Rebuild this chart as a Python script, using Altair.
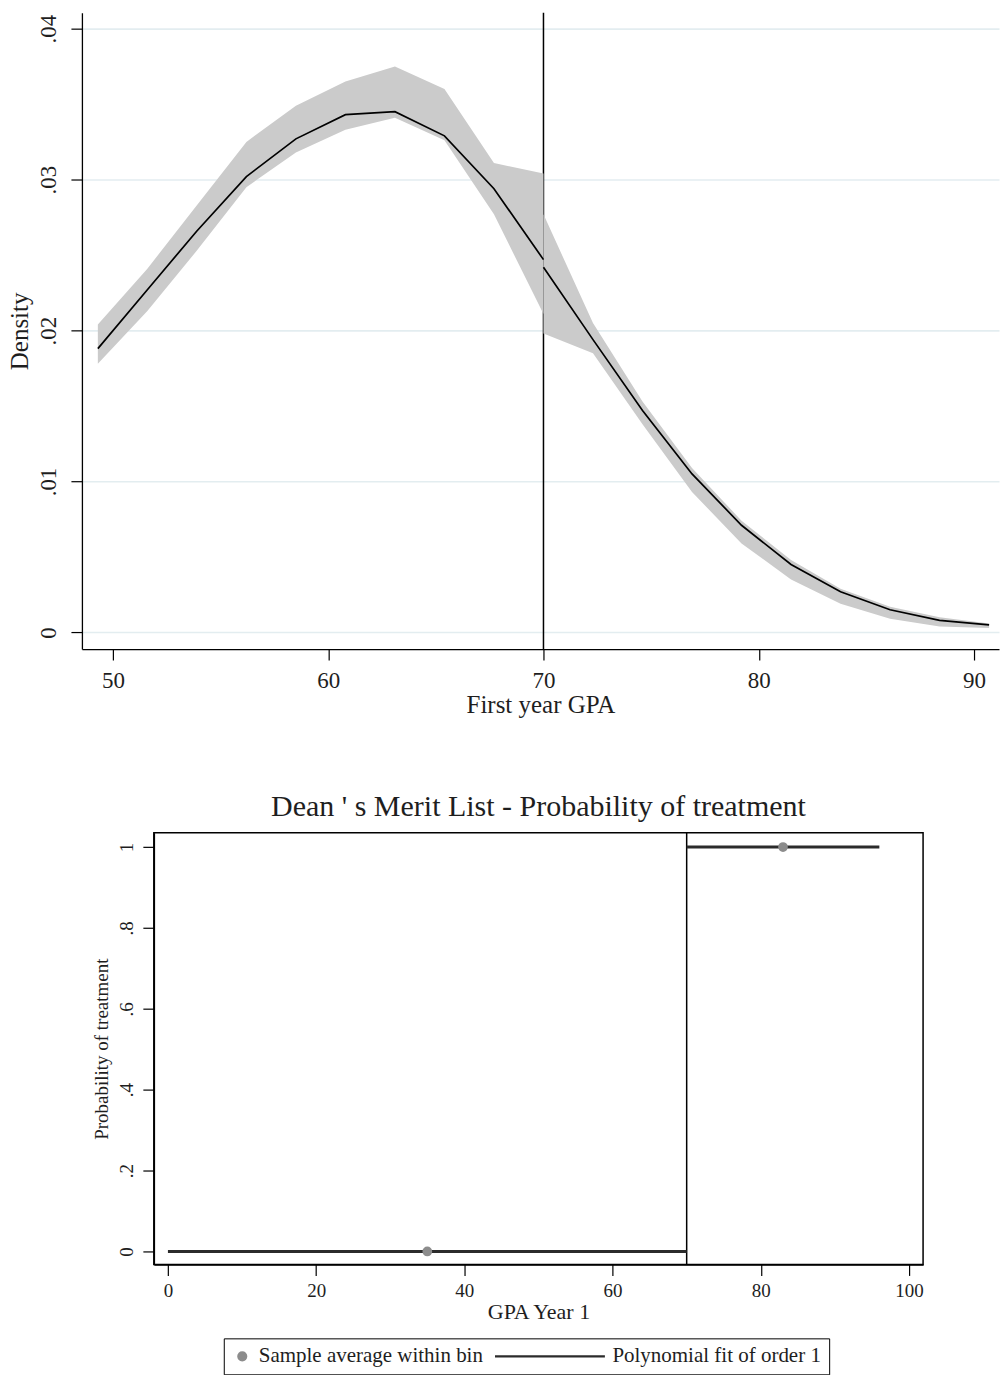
import altair as alt
import pandas as pd

SERIF = "Liberation Serif"
INK = "#1e1e1e"

# Density of first-year GPA on each side of the 70 cutoff, with its confidence band
gpa_below = [49.3, 51.6, 53.9, 56.2, 58.5, 60.8, 63.1, 65.4, 67.7, 70.0]
density_below = [0.0188, 0.0227, 0.0266, 0.0302, 0.0327, 0.0343, 0.0345, 0.0329, 0.0294, 0.0247]
band_lo_below = [0.0178, 0.0213, 0.0253, 0.0295, 0.0318, 0.0333, 0.0341, 0.0326, 0.0277, 0.0211]
band_hi_below = [0.0204, 0.0241, 0.0283, 0.0325, 0.0349, 0.0365, 0.0375, 0.0360, 0.0311, 0.0304]

gpa_above = [70.0, 72.3, 74.6, 76.9, 79.2, 81.5, 83.8, 86.1, 88.4, 90.7]
density_above = [0.0242, 0.0194, 0.0147, 0.0105, 0.0071, 0.0045, 0.0027, 0.0015, 0.0008, 0.0005]
band_lo_above = [0.0198, 0.0185, 0.0138, 0.0093, 0.0059, 0.0035, 0.0019, 0.0009, 0.0004, 0.0003]
band_hi_above = [0.0277, 0.0205, 0.0153, 0.0109, 0.0074, 0.0048, 0.0029, 0.0017, 0.0010, 0.0006]

cutoff = [70]
density_ticks = [0, 0.01, 0.02, 0.03, 0.04]
gpa_ticks_top = [50, 60, 70, 80, 90]

# Dean's Merit List: binned treatment rates and a linear fit on each side
bin_label = "Sample average within bin"
fit_label = "Polynomial fit of order 1"
series_names = [bin_label, fit_label]
bin_gpa = [35, 83]
bin_prob = [0, 1]
fit_gpa = [0, 70, 70, 96]
fit_prob = [0, 0, 1, 1]
fit_side = ["below", "below", "above", "above"]
prob_ticks = [0, 0.2, 0.4, 0.6, 0.8, 1]
gpa_ticks_bottom = [0, 20, 40, 60, 80, 100]

# ---------------- density panel ----------------
dens = pd.DataFrame({
    "gpa": gpa_below + gpa_above,
    "density": density_below + density_above,
    "lo": band_lo_below + band_lo_above,
    "hi": band_hi_below + band_hi_above,
    "side": ["below"] * len(gpa_below) + ["above"] * len(gpa_above),
})

x_scale_top = alt.Scale(domain=[48.56, 91.16], nice=False, zero=False)
y_scale_top = alt.Scale(domain=[-0.0011, 0.04106], nice=False, zero=False)

x_axis_top = alt.Axis(
    values=gpa_ticks_top, title="First year GPA", grid=False,
    domainColor="black", domainWidth=1.3, tickColor="black", tickWidth=1.2, tickSize=11,
    labelFont=SERIF, labelFontSize=23, labelColor=INK, labelPadding=9,
    labelFlush=False, labelOverlap=False,
    titleFont=SERIF, titleFontSize=25, titleFontWeight="normal", titleColor=INK, titlePadding=1,
)
y_axis_top = alt.Axis(
    values=density_ticks,
    labelExpr="datum.value == 0 ? '0' : '.0' + format(datum.value * 100, '.0f')",
    title="Density", grid=True, gridColor="#e3edf0", gridWidth=1.6,
    domainColor="black", domainWidth=1.3, tickColor="black", tickWidth=1.2, tickSize=11,
    labelAngle=270, labelAlign="center", labelBaseline="alphabetic", labelPadding=15,
    labelFont=SERIF, labelFontSize=23, labelColor=INK, labelFlush=False, labelOverlap=False,
    titleFont=SERIF, titleFontSize=25, titleFontWeight="normal", titleColor=INK, titlePadding=5,
)

cut_top = alt.Chart(pd.DataFrame({"gpa": cutoff})).mark_rule(color="black", strokeWidth=1.5).encode(
    x=alt.X("gpa:Q", scale=x_scale_top, axis=x_axis_top)
)
band = alt.Chart(dens).mark_area(color="#cbcbcb", opacity=1).encode(
    x=alt.X("gpa:Q", scale=x_scale_top, axis=x_axis_top),
    y=alt.Y("lo:Q", scale=y_scale_top, axis=y_axis_top),
    y2="hi:Q",
    detail="side:N",
)
dens_line = alt.Chart(dens).mark_line(color="black", strokeWidth=1.7).encode(
    x=alt.X("gpa:Q", scale=x_scale_top, axis=x_axis_top),
    y=alt.Y("density:Q", scale=y_scale_top, axis=y_axis_top),
    detail="side:N",
)
top = alt.layer(cut_top, band, dens_line).properties(width=918, height=637)

# ---------------- treatment probability panel ----------------
bins = pd.DataFrame({"gpa": bin_gpa, "prob": bin_prob, "series": [bin_label] * len(bin_gpa)})
fits = pd.DataFrame({"gpa": fit_gpa, "prob": fit_prob, "side": fit_side,
                     "series": [fit_label] * len(fit_gpa)})

x_scale_bot = alt.Scale(domain=[-1.9, 101.9], nice=False, zero=False)
y_scale_bot = alt.Scale(domain=[-0.032, 1.035], nice=False, zero=False)

x_axis_bot = alt.Axis(
    values=gpa_ticks_bottom, title="GPA Year 1", grid=False,
    domainColor="black", domainWidth=1.5, tickColor="black", tickWidth=1.2, tickSize=11,
    labelFont=SERIF, labelFontSize=19, labelColor=INK, labelPadding=6,
    labelFlush=False, labelOverlap=False,
    titleFont=SERIF, titleFontSize=22, titleFontWeight="normal", titleColor=INK, titlePadding=1,
)
y_axis_bot = alt.Axis(
    values=prob_ticks,
    labelExpr="datum.value == 0 ? '0' : datum.value == 1 ? '1' : '.' + format(datum.value * 10, '.0f')",
    title="Probability of treatment", grid=False,
    domainColor="black", domainWidth=1.5, tickColor="black", tickWidth=1.2, tickSize=11,
    labelAngle=270, labelAlign="center", labelBaseline="alphabetic", labelPadding=10,
    labelFont=SERIF, labelFontSize=19, labelColor=INK, labelFlush=False, labelOverlap=False,
    titleFont=SERIF, titleFontSize=19, titleFontWeight="normal", titleColor=INK, titlePadding=6,
)

legend = alt.Legend(
    title=None, orient="none", legendX=70, legendY=506, direction="horizontal",
    strokeColor="black", padding=8, clipHeight=20,
    labelFont=SERIF, labelFontSize=21, labelColor=INK, labelLimit=400,
    labelOffset=6, columnPadding=10, symbolOpacity=1, symbolStrokeWidth=2.4,
)
fill_scale = alt.Scale(domain=series_names, range=["#8c8c8c", "transparent"])
stroke_scale = alt.Scale(domain=series_names, range=["#8c8c8c", "#2b2b2b"])
shape_scale = alt.Scale(domain=series_names, range=["circle", "stroke"])
size_scale = alt.Scale(type="ordinal", domain=series_names, range=[60, 12100])

cut_bot = alt.Chart(pd.DataFrame({"gpa": cutoff})).mark_rule(color="black", strokeWidth=1.5).encode(
    x=alt.X("gpa:Q", scale=x_scale_bot, axis=x_axis_bot)
)
fit_lines = alt.Chart(fits).mark_line(strokeWidth=2.8).encode(
    x=alt.X("gpa:Q", scale=x_scale_bot, axis=x_axis_bot),
    y=alt.Y("prob:Q", scale=y_scale_bot, axis=y_axis_bot),
    stroke=alt.Stroke("series:N", scale=stroke_scale, legend=legend),
    detail="side:N",
)
bin_points = alt.Chart(bins).mark_point(filled=True, opacity=1, strokeWidth=2).encode(
    x=alt.X("gpa:Q", scale=x_scale_bot, axis=x_axis_bot),
    y=alt.Y("prob:Q", scale=y_scale_bot, axis=y_axis_bot),
    fill=alt.Fill("series:N", scale=fill_scale, legend=legend),
    stroke=alt.Stroke("series:N", scale=stroke_scale, legend=legend),
    shape=alt.Shape("series:N", scale=shape_scale, legend=legend),
    size=alt.Size("series:N", scale=size_scale, legend=legend),
)
bottom = alt.layer(cut_bot, fit_lines, bin_points).properties(
    width=770, height=432,
    title=alt.TitleParams(
        "Dean ' s Merit List - Probability of treatment",
        font=SERIF, fontSize=30, fontWeight="normal", color=INK,
        anchor="middle", frame="group", offset=10,
    ),
    view=alt.ViewBackground(stroke="black", strokeWidth=1.5),
)

gutter = alt.Chart(pd.DataFrame({"gpa": [0]})).mark_point(opacity=0).encode(
    x=alt.X("gpa:Q", axis=None), y=alt.Y("gpa:Q", axis=None)
).properties(width=9, height=10)

own_scales = dict(x="independent", y="independent", fill="independent",
                  stroke="independent", shape="independent", size="independent")

bottom_row = alt.hconcat(gutter, bottom, spacing=0).resolve_scale(**own_scales)

chart = alt.vconcat(top, bottom_row, spacing=72).resolve_scale(**own_scales).properties(
    padding={"left": 7, "top": 10, "right": 0, "bottom": 0}
).configure(font=SERIF).configure_view(stroke="transparent")

chart.save("out.html", embed_options={"renderer": "svg", "actions": False})
